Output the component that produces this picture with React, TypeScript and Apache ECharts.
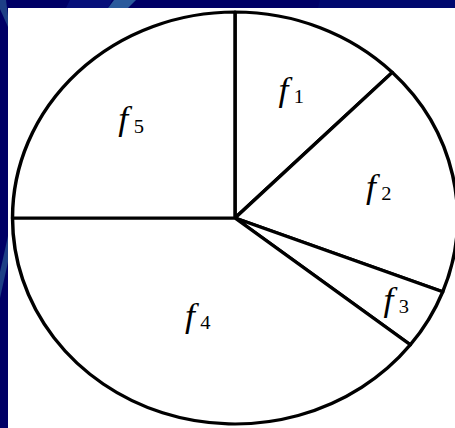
import React, { useEffect, useRef } from "react";
import * as echarts from "echarts";

// Slice names (f + subscript digit) and their sizes (degrees of the full turn)
const categories = ["f1", "f2", "f3", "f4", "f5"];
const values = [45, 66, 17, 142, 90];
// Which labels sit at which depth inside their slice
const innerLabels = ["f4"];
const midLabels = ["f1", "f2", "f5"];
const outerLabels = ["f3"];

const CENTER: [number, number] = [235, 218];
const R = 206;

export default function App() {
  const ref = useRef<HTMLDivElement>(null);

  useEffect(() => {
    if (!ref.current) return;
    const chart = echarts.init(ref.current, null, { renderer: "svg" });
    const data = categories.map((name, i) => ({ name, value: values[i] }));
    const serif = "Liberation Serif";
    const rich = {
      f: {
        fontFamily: serif,
        fontStyle: "italic",
        fontWeight: "normal",
        fontSize: 33,
        lineHeight: 33,
        padding: [0, 0, 3, 0],
        color: "#000",
        verticalAlign: "bottom",
      },
      n: {
        fontFamily: serif,
        fontStyle: "normal",
        fontWeight: "normal",
        fontSize: 19,
        lineHeight: 18,
        padding: [0, 0, 3, 5],
        color: "#000",
        verticalAlign: "bottom",
      },
    };
    const labelFor = (names: string[]) => ({
      show: true,
      position: "inside",
      fontFamily: serif,
      color: "#000",
      formatter: (p: any) =>
        names.includes(p.name) ? `{f|f}{n|${String(p.name).slice(1)}}` : "",
      rich,
    });
    const common = {
      type: "pie",
      center: CENTER,
      startAngle: 90,
      clockwise: true,
      silent: true,
      avoidLabelOverlap: false,
      labelLine: { show: false },
      emphasis: { disabled: true },
      data,
    };
    chart.setOption({
      animation: false,
      series: [
        {
          ...common,
          radius: [0, R],
          itemStyle: {
            color: "#ffffff",
            borderColor: "#000000",
            borderWidth: 3.2,
            borderJoin: "round",
          },
          label: labelFor(innerLabels),
        },
        {
          ...common,
          radius: [60, R],
          itemStyle: { color: "rgba(0,0,0,0)", borderWidth: 0 },
          label: labelFor(midLabels),
        },
        {
          ...common,
          radius: [131, R],
          itemStyle: { color: "rgba(0,0,0,0)", borderWidth: 0 },
          label: labelFor(outerLabels),
        },
      ],
    });
    return () => chart.dispose();
  }, []);

  return (
    <div
      style={{
        position: "fixed",
        left: 0,
        top: 0,
        width: 455,
        height: 428,
        overflow: "hidden",
        background: "#000066",
      }}
    >
      <svg
        width={455}
        height={428}
        style={{ position: "absolute", left: 0, top: 0 }}
      >
        <polygon points="70,0 112,0 108,8 66,8" fill="#07107a" />
        <polygon points="114,0 136,0 128,8 108,8" fill="#2a5a9c" />
        <polygon points="0,0 6,0 8,16 8,27 0,9" fill="#1d3f86" />
        <polygon points="8,236 8,262 0,298 0,272" fill="#1d3f86" />
        <polygon points="320,0 455,0 455,8 318,8" fill="#00086e" />
      </svg>
      <div
        style={{
          position: "absolute",
          left: 8,
          top: 8,
          width: 447,
          height: 420,
          background: "#ffffff",
        }}
      />
      <div
        ref={ref}
        style={{
          position: "absolute",
          left: 0,
          top: 0,
          width: 455,
          height: 428,
          transform: "scaleX(1.08)",
          transformOrigin: "235px 218px",
        }}
      />
    </div>
  );
}
